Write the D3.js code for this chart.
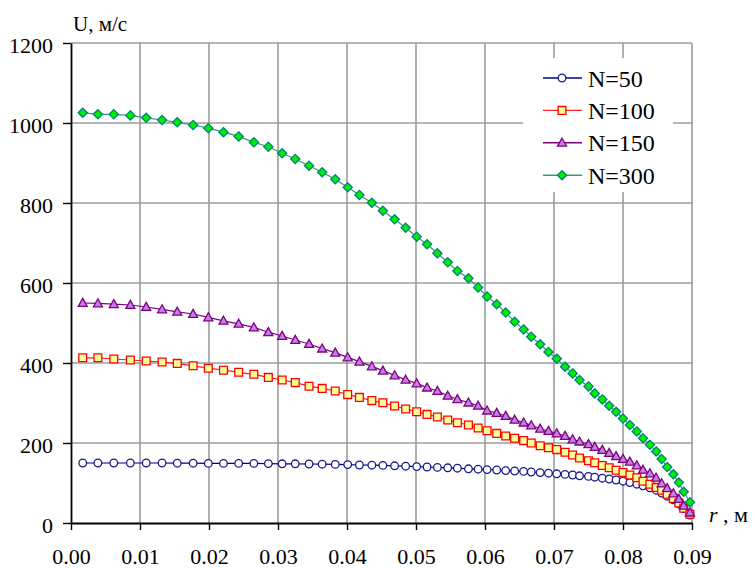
<!DOCTYPE html>
<html>
<head>
<meta charset="utf-8">
<script src="https://cdn.jsdelivr.net/npm/d3@7"></script>
<style>
  html, body { margin: 0; padding: 0; background: #fff; }
  svg { display: block; }
  svg text { font-family: "Liberation Serif", "Times New Roman", Tinos, "DejaVu Serif", serif !important; fill: #000; }
</style>
</head>
<body>
<svg id="chart" width="755" height="568"></svg>
<script>
// ---- data ----
const r = [
  0.0017, 0.0039, 0.0062, 0.0086, 0.0109, 0.0132, 0.0154, 0.0177, 0.0199, 0.0221,
  0.0243, 0.0265, 0.0286, 0.0306, 0.0325, 0.0345, 0.0364, 0.0383, 0.0401, 0.0418,
  0.0436, 0.0452, 0.0469, 0.0485, 0.0501, 0.0516, 0.0531, 0.0546, 0.0560, 0.0576,
  0.0590, 0.0603, 0.0617, 0.0630, 0.0643, 0.0656, 0.0667, 0.0680, 0.0692, 0.0704,
  0.0716, 0.0727, 0.0737, 0.0750, 0.0759, 0.0770, 0.0780, 0.0790, 0.0800, 0.0810,
  0.0820, 0.0829, 0.0839, 0.0848, 0.0856, 0.0864, 0.0873, 0.0881, 0.0888, 0.0897
];
const u50 = [
  150, 150, 150, 150, 150, 150, 149.5, 149.5, 149, 149,
  149, 149, 148.5, 148, 148, 147.5, 147, 146.5, 146, 145,
  144.5, 144, 143, 142, 141, 140, 139, 138, 137, 135.5,
  134.5, 133.5, 132.5, 131, 130, 129, 127.5, 126, 124.5, 123,
  121.5, 120, 118, 116.5, 114.5, 112, 110, 107.5, 104.5, 101,
  97, 93, 88, 82, 75, 67, 58, 48, 36, 20
];
const u100 = [
  413, 413, 410, 407.5, 405, 402.5, 399, 393, 387, 382,
  376.7, 371.7, 364, 357.5, 351, 342, 336.5, 330, 321, 314,
  306, 300.5, 292.5, 285, 278.3, 271.5, 265, 257.5, 250.8, 245,
  237.5, 230.5, 224, 217.5, 211.7, 206, 200, 193, 188, 183.5,
  177, 170, 162.5, 155.5, 150.5, 143.8, 138, 132, 126, 120,
  113, 104.5, 97, 89, 82, 72, 61.5, 50, 37, 22
];
const u150 = [
  550, 549, 547, 545, 540, 534, 528, 522.5, 514, 505.5,
  498, 489, 477, 467.5, 457.5, 447.5, 436, 425.8, 414, 403.3,
  391.5, 380.8, 369, 358, 349, 338.5, 330, 318, 309.5, 301,
  293, 281, 275, 267.5, 258, 251, 244, 235.5, 230, 224,
  217.5, 209, 203.5, 197, 190, 182.5, 175, 167, 160, 153,
  144, 133, 124, 113, 99, 87, 74, 60, 43, 26
];
const u300 = [
  1025.7, 1021.7, 1021.7, 1019, 1013, 1007.5, 1001.7, 995, 987, 977,
  966.5, 951.7, 940.7, 924.2, 910, 893.2, 876.7, 859.2, 839.2, 820,
  800.7, 780.7, 759.2, 738.2, 715.7, 696.7, 674.2, 651.7, 630, 611.7,
  589, 566, 546.7, 526, 503, 484, 465.7, 446.7, 427.5, 410.8,
  390.8, 374, 357.5, 341.5, 324, 309, 293, 278, 261, 245,
  229, 212, 195.5, 179, 160, 140, 122, 101, 78, 52
];
const seriesNames = ["N=50", "N=100", "N=150", "N=300"];
const xTicks = [0, 0.01, 0.02, 0.03, 0.04, 0.05, 0.06, 0.07, 0.08, 0.09];
const yTicks = [0, 200, 400, 600, 800, 1000, 1200];
const yTitle = "U, м/с";
const xTitleVar = "r";
const xTitleUnit = " , м";

// ---- build ----
const svg = d3.select("#chart");
const x = d3.scaleLinear().domain([0, 0.09]).range([71, 692]);
const y = d3.scaleLinear().domain([0, 1200]).range([523, 43]);

const series = [
  { name: seriesNames[0], values: u50,  line: "#000080", stroke: "#1a1a8a", fill: "#ffffff", shape: "circle" },
  { name: seriesNames[1], values: u100, line: "#ff2020", stroke: "#ff0000", fill: "#ffff99", shape: "square" },
  { name: seriesNames[2], values: u150, line: "#800080", stroke: "#800080", fill: "#c080e6", shape: "triangle" },
  { name: seriesNames[3], values: u300, line: "#3a9a6a", stroke: "#008080", fill: "#00ee00", shape: "diamond" }
];

function shapePath(shape) {
  if (shape === "circle") { const a = 3.8; return `M${a},0A${a},${a} 0 1,1 ${-a},0A${a},${a} 0 1,1 ${a},0Z`; }
  if (shape === "square") { const a = 3.9; return `M${-a},${-a}H${a}V${a}H${-a}Z`; }
  if (shape === "triangle") { return "M0,-4.6L4.5,3.4L-4.5,3.4Z"; }
  if (shape === "diamond") { const a = 4.6; return `M0,${-a}L${a},0L0,${a}L${-a},0Z`; }
}

// gridlines
const grid = svg.append("g");
grid.selectAll("line.v").data(xTicks.slice(1)).join("line")
  .attr("x1", d => x(d)).attr("x2", d => x(d))
  .attr("y1", y(1200)).attr("y2", y(0))
  .attr("stroke", "#9c9c9c").attr("stroke-width", 1.6);
grid.selectAll("line.h").data(yTicks.slice(1)).join("line")
  .attr("x1", x(0)).attr("x2", x(0.09))
  .attr("y1", d => y(d)).attr("y2", d => y(d))
  .attr("stroke", "#9c9c9c").attr("stroke-width", 1.6);

// axes
const xAxis = svg.append("g").attr("transform", `translate(0,${y(0)})`)
  .call(d3.axisBottom(x).tickValues(xTicks).tickFormat(d3.format(".2f")).tickSizeInner(7).tickSizeOuter(0).tickPadding(18));
const yAxis = svg.append("g").attr("transform", `translate(${x(0)},0)`)
  .call(d3.axisLeft(y).tickValues(yTicks).tickFormat(d3.format("d")).tickSizeInner(8).tickSizeOuter(0).tickPadding(10));
[xAxis, yAxis].forEach(g => {
  g.attr("font-family", null).attr("font-size", null);
  g.select(".domain").attr("stroke", "#000").attr("stroke-width", 1.8);
  g.selectAll(".tick line").attr("stroke", "#000").attr("stroke-width", 1.4);
  g.selectAll(".tick text").attr("font-size", 22).attr("fill", "#000");
});
yAxis.selectAll(".tick text").attr("dy", "0.42em");

// series
const line = d3.line().x((d, i) => x(r[i])).y(d => y(d));
series.forEach(s => {
  const g = svg.append("g");
  g.append("path").attr("d", line(s.values)).attr("fill", "none")
    .attr("stroke", s.line).attr("stroke-width", 1.2);
  g.selectAll("path.m").data(s.values).join("path")
    .attr("class", "m")
    .attr("transform", (d, i) => `translate(${x(r[i])},${y(d)})`)
    .attr("d", shapePath(s.shape))
    .attr("fill", s.fill).attr("stroke", s.stroke).attr("stroke-width", 1.3);
});

// legend
const lg = svg.append("g");
lg.append("rect").attr("x", 523).attr("y", 58).attr("width", 150).attr("height", 134).attr("fill", "#fff");
series.forEach((s, i) => {
  const cy = 78 + i * 32.4;
  lg.append("line").attr("x1", 543).attr("x2", 582).attr("y1", cy).attr("y2", cy)
    .attr("stroke", s.line).attr("stroke-width", 1.4);
  lg.append("path").attr("transform", `translate(562,${cy})`).attr("d", shapePath(s.shape))
    .attr("fill", s.fill).attr("stroke", s.stroke).attr("stroke-width", 1.3);
  lg.append("text").attr("x", 588).attr("y", cy + 8.5).attr("font-size", 24).text(s.name);
});

// axis titles
svg.append("text").attr("x", 73).attr("y", 31).attr("font-size", 21).text(yTitle);
const xt = svg.append("text").attr("x", 709).attr("y", 522).attr("font-size", 22);
xt.append("tspan").attr("font-style", "italic").text(xTitleVar);
xt.append("tspan").text(xTitleUnit);
</script>
</body>
</html>
